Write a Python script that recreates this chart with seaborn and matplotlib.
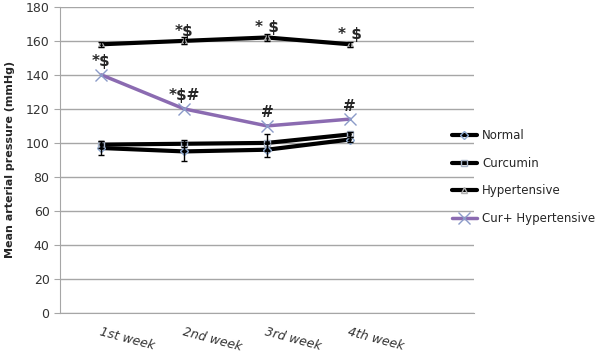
import numpy as np
import pandas as pd
import matplotlib
matplotlib.use("Agg")
import matplotlib.pyplot as plt
import seaborn as sns

weeks = ["1st week", "2nd week", "3rd week", "4th week"]
normal = [97, 95, 96, 102]
normal_err = [4, 5.5, 4, 1.5]
curcumin = [99, 99.5, 100, 105]
curcumin_err = [2, 2, 5, 1.5]
hypertensive = [158, 160, 162, 158]
hypertensive_err = [1.5, 2, 2, 1.5]
cur_hyp = [140, 120, 110, 114]
hyp_marks = ["", "*$", "* $", "* $"]
cur_hyp_marks = ["*$", "*$#", "#", "#"]

sns.set_style("white")
plt.rcParams['font.family'] = ['DejaVu Sans']

fig = plt.figure(figsize=(6, 3.61), dpi=100)
ax = fig.add_axes([0.1, 0.133, 0.69, 0.848])

pos = np.arange(len(weeks))
series = [
    ("Normal", normal, normal_err, "black", "D", "#8DA9D0", 3),
    ("Curcumin", curcumin, curcumin_err, "black", "s", "#A8B4C8", 3),
    ("Hypertensive", hypertensive, hypertensive_err, "black", "^", "#B0B0B0", 3),
    ("Cur+ Hypertensive", cur_hyp, None, "#8B6BB1", "x", "#8B9BC8", 2.5),
]

for name, vals, err, col, mk, mcol, lw in series:
    df = pd.DataFrame({"pos": pos, "val": vals})
    ms = 9 if mk == "x" else 4
    sns.lineplot(data=df, x="pos", y="val", ax=ax, color=col, lw=lw,
                 marker=mk, markersize=ms, markerfacecolor="none",
                 markeredgecolor=mcol, markeredgewidth=1, label=name, zorder=3)
    if err is not None:
        ax.errorbar(pos, vals, yerr=err, fmt="none", ecolor="black",
                    elinewidth=1, capsize=2.5, capthick=1, zorder=4)

for i, t in enumerate(hyp_marks):
    if t:
        ax.annotate(t, (pos[i], hypertensive[i]), xytext=(0, 1.5), textcoords="offset points",
                    ha="center", va="bottom", fontsize=11, fontweight="bold")
for i, t in enumerate(cur_hyp_marks):
    ax.annotate(t, (pos[i], cur_hyp[i]), xytext=(0, 4), textcoords="offset points",
                ha="center", va="bottom", fontsize=11, fontweight="bold")

ax.set_xlim(-0.5, 4.5)
ax.set_ylim(0, 180)
ax.set_yticks(range(0, 181, 20))
ax.yaxis.grid(True, color="#A6A6A6", lw=1)
ax.xaxis.grid(False)
ax.set_axisbelow(True)

ax.set_xticks(pos)
ax.set_xticklabels([])
ax.tick_params(axis="x", which="major", length=0)
ax.set_xticks(np.arange(-0.5, 5, 1), minor=True)
ax.tick_params(axis="x", which="minor", length=4, color="#A6A6A6", direction="out")
for p, w in zip(pos, weeks):
    ax.text(p, -7, w, rotation=-15, rotation_mode="anchor", ha="left", va="top",
            fontsize=9, fontstyle="italic", color="#333333")
ax.tick_params(axis="y", length=4, color="#A6A6A6", labelsize=9, labelcolor="#333333", left=True)

for s in ["top", "right"]:
    ax.spines[s].set_visible(False)
ax.spines["left"].set_color("#A6A6A6")
ax.spines["bottom"].set_color("#A6A6A6")

ax.set_xlabel("")
ax.set_ylabel("Mean arterial pressure (mmHg)", fontsize=8, fontweight="bold", labelpad=8)

leg = ax.legend(loc="upper left", bbox_to_anchor=(0.92, 0.635), frameon=False,
                fontsize=8.5, handlelength=2.2, labelspacing=1.23, handletextpad=0.4)

fig.savefig("out.png", dpi=100)
